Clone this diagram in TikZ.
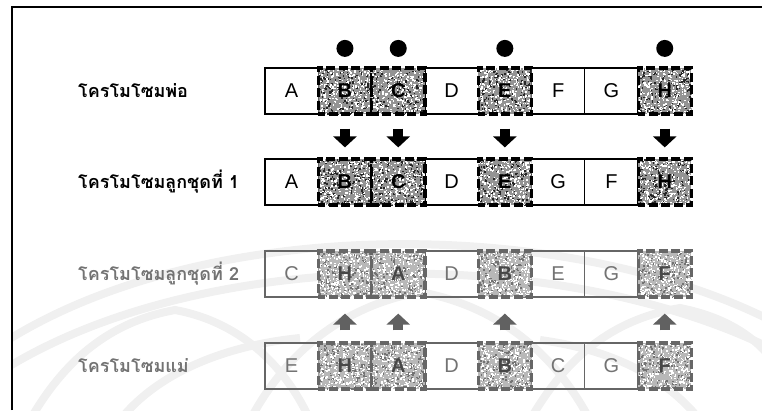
\documentclass[tikz,border=0pt]{standalone}
\usepackage{fontspec}
\setmainfont{Liberation Sans}
\newfontfamily\thaifont[Script=Thai]{Loma}
\usetikzlibrary{arrows.meta,calc}

% mottled grey fill used inside the marked genes
\newcommand\speckfill[3]{%
  \fill[#1] (path picture bounding box.north west) rectangle (path picture bounding box.south east);
  \foreach \k in {1,...,170}{%
    \pgfmathsetmacro\ux{rnd*54}\pgfmathsetmacro\uy{rnd*47}%
    \fill[#2] ($(path picture bounding box.north west)+(\ux,\uy)$) rectangle +(1.6,1.6);
  }%
  \foreach \k in {1,...,320}{%
    \pgfmathsetmacro\ux{rnd*54}\pgfmathsetmacro\uy{rnd*47}%
    \fill[#3] ($(path picture bounding box.north west)+(\ux,\uy)$) rectangle +(1.4,1.4);
  }%
}

\tikzset{
  cellbase/.style={minimum width=53.3pt, minimum height=46pt, inner sep=0pt,
    font=\fontsize{20}{20}\selectfont},
  pcell/.style={cellbase, draw=black, line width=1.3pt, text=black},
  pcellg/.style={cellbase, draw=black!60, line width=1.3pt, text=black!55},
  scell/.style={cellbase, draw=black, line width=3.2pt,
    dash pattern=on 9pt off 3.5pt, dash phase=2pt, text=black,
    font=\fontsize{20}{20}\selectfont\bfseries,
    path picture={\speckfill{black!42}{black!85}{white}}},
  scellg/.style={cellbase, draw=black!60, line width=3.2pt,
    dash pattern=on 9pt off 3.5pt, dash phase=2pt, text=black!72,
    font=\fontsize{20}{20}\selectfont\bfseries,
    path picture={\speckfill{black!28}{black!55}{white}}},
  rowlabel/.style={anchor=west, inner sep=0pt, font=\thaifont\bfseries\fontsize{18}{18}\selectfont},
  dot/.style={circle, fill=black, minimum size=17pt, inner sep=0pt},
  blockarrow/.style={draw=#1, line width=10pt, -{Triangle[width=23pt,length=11pt]}},
  watermark/.style={draw=black!6, line width=8pt},
}

% one chromosome: plain genes first, marked genes on top
\newcommand\chromrow[4]{%
  \foreach \L [count=\k] in {#3}{%
    \pgfmathtruncatemacro\sh{(\k==2)||(\k==3)||(\k==5)||(\k==8)}%
    \ifnum\sh=0 \node[pcell#4] (r#1c\k) at ({265+53.3*(\k-0.5)},#2) {\L};\fi
  }%
  \foreach \L [count=\k] in {#3}{%
    \pgfmathtruncatemacro\sh{(\k==2)||(\k==3)||(\k==5)||(\k==8)}%
    \ifnum\sh=1 \node[scell#4] (r#1c\k) at ({265+53.3*(\k-0.5)},#2) {\L};\fi
  }%
}

\begin{document}
\begin{tikzpicture}[x=1pt,y=-1pt]
\useasboundingbox (0,0) rectangle (762,410);
\pgfmathsetseed{42}

% faint emblem in the background
\begin{scope}
  \clip (12,7) rectangle (762,410);
  \draw[watermark] (0,345) .. controls (200,215) and (560,215) .. (770,320);
  \draw[watermark] (0,372) .. controls (200,245) and (560,245) .. (770,348);
  \draw[watermark] (30,420) .. controls (70,350) and (120,320) .. (175,310)
                   .. controls (230,320) and (280,355) .. (310,420);
  \draw[watermark] (250,420) .. controls (290,345) and (350,305) .. (420,292)
                   .. controls (490,305) and (550,345) .. (590,420);
  \draw[watermark] (530,420) .. controls (570,350) and (620,318) .. (680,308)
                   .. controls (730,318) and (760,340) .. (780,370);
  \draw[watermark] (120,420) .. controls (160,370) and (230,345) .. (300,338);
  \draw[watermark] (700,420) .. controls (660,370) and (600,348) .. (540,340);
\end{scope}

% frame
\draw[line width=2pt] (12,410) -- (12,7) -- (762,7);

% row labels
\node[rowlabel] (l1) at (78,91)  {โครโมโซมพ่อ};
\node[rowlabel] (l2) at (78,182) {โครโมโซมลูกชุดที่ 1};
\node[rowlabel, text=black!55] (l3) at (78,274) {โครโมโซมลูกชุดที่ 2};
\node[rowlabel, text=black!55] (l4) at (78,366) {โครโมโซมแม่};

% chromosomes
\chromrow{1}{91}{A,B,C,D,E,F,G,H}{}
\chromrow{2}{182}{A,B,C,D,E,G,F,H}{}
\chromrow{3}{274}{C,H,A,D,B,E,G,F}{g}
\chromrow{4}{366}{E,H,A,D,B,C,G,F}{g}

% selection marks on the father chromosome
\foreach \k in {2,3,5,8}{
  \node[dot] (m\k) at ($(r1c\k.north)+(0,-18)$) {};
}

% copied genes
\foreach \k in {2,3,5,8}{
  \draw[blockarrow=black, shorten <=13pt, shorten >=10pt] (r1c\k) -- (r2c\k);
  \draw[blockarrow=black!62, shorten <=11pt, shorten >=15pt] (r4c\k) -- (r3c\k);
}
\end{tikzpicture}
\end{document}
